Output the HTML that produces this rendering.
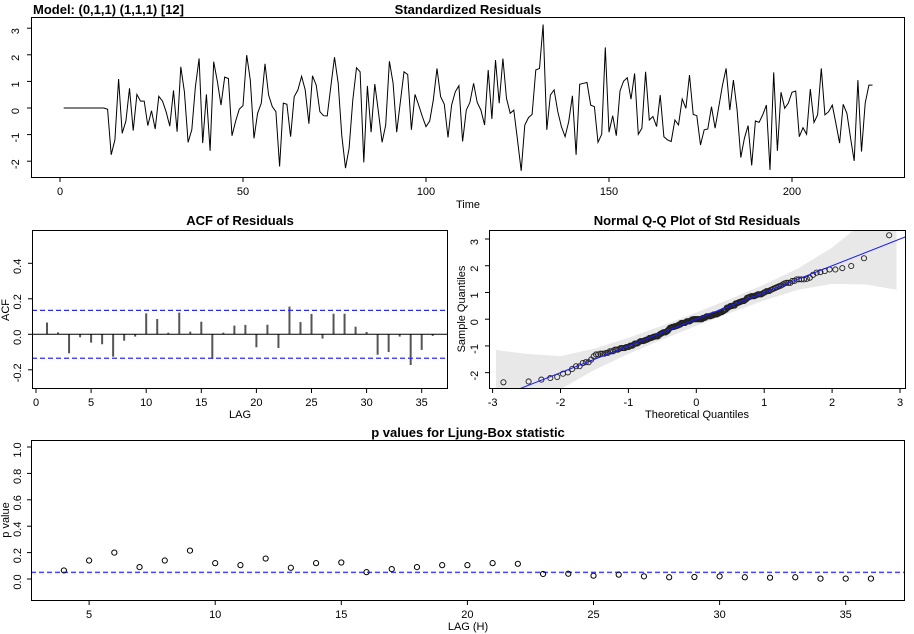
<!DOCTYPE html>
<html><head><meta charset="utf-8"><style>
body{margin:0;background:#fff}
svg{display:block;font-family:"Liberation Sans",sans-serif}
</style></head><body>
<svg id="c" width="914" height="634" xmlns="http://www.w3.org/2000/svg">
<text x="33" y="14" font-size="13" font-weight="bold">Model: (0,1,1) (1,1,1) [12]</text>
<text x="468" y="14" font-size="13" font-weight="bold" text-anchor="middle">Standardized Residuals</text>
<text x="240" y="225" font-size="13" font-weight="bold" text-anchor="middle">ACF of Residuals</text>
<text x="697" y="225" font-size="13" font-weight="bold" text-anchor="middle">Normal Q-Q Plot of Std Residuals</text>
<text x="468" y="437" font-size="13" font-weight="bold" text-anchor="middle">p values for Ljung-Box statistic</text>
</svg>
<script>
const residuals=[0,0,0,0,0,0,0,0,0,0,0,0,-0.05,-1.76,-1.2,1.09,-0.95,-0.49,0.74,-0.85,0.51,0.26,0.26,-0.66,-0.1,-0.79,0.44,0.26,-0.14,-0.68,0.66,-0.89,1.55,0.61,-1.29,-0.82,0.8,1.86,-1.32,0.51,-1.61,1.74,0.99,0.11,1.16,1.11,-1.04,-0.49,-0.04,0.09,1.99,1.05,-1.14,-0.2,0.18,1.66,0.49,0.05,-0.14,-2.2,0.18,0.14,-1.08,0.43,0.68,1.19,0.68,-0.59,1.21,0.86,-0.14,-0.29,-0.3,0.8,1.91,0.93,-1.04,-2.26,-1.51,0.3,1.51,1.36,-2.04,0.83,-0.91,0.9,-0.14,-1.29,-0.64,1.76,0.93,-0.91,0.24,1.36,1.26,-0.82,0.51,0.11,-0.32,-0.7,-0.49,0.3,1.49,0.43,0.14,-1.11,0.11,0.61,0.84,-1.26,-0.08,0.21,0.93,0.21,-0.08,-0.64,1.43,-0.41,1.8,0.18,1.86,0.36,-0.2,-0.08,-1.2,-2.36,-0.64,-0.36,-0.24,1.43,1.49,3.14,-0.82,0.49,0.68,-0.14,-0.7,-1.08,-0.51,0.46,-1.76,0.89,0.93,0.96,0.11,0.05,-1.29,-0.99,2.28,-0.91,-0.29,-1.04,0.64,1.01,1.14,0.33,1.3,-0.99,-0.76,1.36,-0.45,-0.32,-0.7,0.49,-1.08,-1.2,-1.26,-0.45,-0.64,0.34,-0.01,1.24,-0.24,-0.29,-1.39,-0.82,-0.79,0.05,-0.76,0.05,0.86,1.49,-0.08,1.05,-0.08,-1.86,-1.14,-0.66,-2.16,-0.49,-0.54,-0.26,0.11,-2.33,1.34,-1.61,0.59,-0.01,0.18,0.59,0.64,-1.08,-0.74,-0.99,0.71,-0.54,-0.26,1.49,-0.26,-0.14,0.11,-0.58,-1.32,0.14,-0.2,-1.14,-1.99,1.05,-1.64,0.18,0.86,0.86];
const timeTicks=[0,50,100,150,200];
const resTicks=[-2,-1,0,1,2,3];
const acfLags=[1,2,3,4,5,6,7,8,9,10,11,12,13,14,15,16,17,18,19,20,21,22,23,24,25,26,27,28,29,30,31,32,33,34,35,36];
const acfValues=[0.066,0.011,-0.107,-0.017,-0.047,-0.056,-0.126,-0.036,-0.013,0.118,0.086,0.009,0.122,0.015,0.071,-0.139,0.009,0.049,0.053,-0.073,0.054,-0.077,0.156,0.069,0.115,-0.024,0.116,0.116,0.043,0.013,-0.115,-0.1,-0.013,-0.173,-0.088,-0.009];
const acfBound=0.135;
const acfXTicks=[0,5,10,15,20,25,30,35];
const acfYTicks=[-0.2,0.0,0.2,0.4];
const acfYLabels=["-0.2","0.0","0.2","0.4"];
const qqXTicks=[-3,-2,-1,0,1,2,3];
const qqYTicks=[-2,-1,0,1,2,3];
const qqBandX=[-2.95,-2.5,-2,-1.5,-1,-0.5,0,0.5,1,1.5,2,2.5,2.95];
const qqBandHW=[1.8,1.2,0.62,0.4,0.3,0.26,0.25,0.26,0.3,0.4,0.68,1.2,1.85];
const qqLine=[0.0,1.0];
const lbLags=[4,5,6,7,8,9,10,11,12,13,14,15,16,17,18,19,20,21,22,23,24,25,26,27,28,29,30,31,32,33,34,35,36];
const lbPValues=[0.065,0.14,0.2,0.09,0.14,0.215,0.12,0.105,0.155,0.085,0.12,0.125,0.052,0.075,0.09,0.105,0.105,0.12,0.115,0.038,0.04,0.025,0.033,0.02,0.013,0.015,0.02,0.013,0.01,0.013,0.003,0.003,0.003];
const lbXTicks=[5,10,15,20,25,30,35];
const lbYTicks=[0,0.2,0.4,0.6,0.8,1.0];
const lbYLabels=["0.0","0.2","0.4","0.6","0.8","1.0"];

const svg=document.getElementById('c');
const NS='http://www.w3.org/2000/svg';
function mk(tag,attrs,parent){const e=document.createElementNS(NS,tag);for(const k in attrs)e.setAttribute(k,attrs[k]);(parent||svg).appendChild(e);return e;}
function txt(x,y,s,attrs){const e=mk('text',Object.assign({x:x,y:y,'font-size':11,'text-anchor':'middle',fill:'#000'},attrs||{}));e.textContent=s;return e;}
function vtxt(x,y,s){const e=txt(x,y,s,{transform:'rotate(-90 '+x+' '+y+')'});return e;}
function frame(x0,y0,x1,y1){return mk('rect',{x:x0,y:y0,width:x1-x0,height:y1-y0,fill:'none',stroke:'#000','stroke-width':1});}

// ===== Residuals panel =====
const rx=t=>60+3.66*t, ry=v=>108-26.6*v;
let g=mk('g',{});


let pts=residuals.map((v,i)=>rx(i+1).toFixed(1)+','+ry(v).toFixed(1)).join(' ');
let pl=mk('polyline',{points:pts,fill:'none',stroke:'#000','stroke-width':1},g);


let f=frame(31.5,17.5,904.5,177.5);


timeTicks.forEach(t=>{mk('line',{x1:rx(t),x2:rx(t),y1:177.5,y2:182,stroke:'#000'},g);let e=txt(rx(t),195,String(t));});
mk('line',{x1:rx(0),x2:rx(200),y1:177.5,y2:177.5,stroke:'#000'},g);
resTicks.forEach(v=>{mk('line',{x1:27,x2:31.5,y1:ry(v),y2:ry(v),stroke:'#000'},g);let e=vtxt(19,ry(v)+3,String(v));});
let tl=txt(468,208,'Time');

// ===== ACF panel =====
const ax=l=>36+11.02*l, ay=v=>334.3-177.5*v;
acfValues.forEach((v,i)=>{let b=mk('line',{x1:ax(acfLags[i]),x2:ax(acfLags[i]),y1:ay(0),y2:ay(v),stroke:'#555','stroke-width':2});});
mk('line',{x1:32,x2:447,y1:ay(0),y2:ay(0),stroke:'#000'});
[acfBound,-acfBound].forEach(b=>{let l=mk('line',{x1:32,x2:447,y1:ay(b),y2:ay(b),stroke:'#2a2aff','stroke-dasharray':'5,3','stroke-width':1.2});});
f=frame(32.5,230.5,447.5,388.5);


acfXTicks.forEach(t=>{mk('line',{x1:ax(t),x2:ax(t),y1:388.5,y2:393,stroke:'#000'});let e=txt(ax(t),406,String(t));});
mk('line',{x1:ax(0),x2:ax(35),y1:388.5,y2:388.5,stroke:'#000'});
acfYTicks.forEach((v,i)=>{mk('line',{x1:28,x2:32.5,y1:ay(v),y2:ay(v),stroke:'#000'});let e=vtxt(21,ay(v)+3,acfYLabels[i]);});
let al=txt(240,418,'LAG');
al=vtxt(9,310,'ACF');

// ===== Q-Q panel =====
const qx=x=>696.3+67.9*x, qy=v=>319.2-26.73*v;
function qnorm(p){const a=[-39.69683028665376,220.9460984245205,-275.9285104469687,138.357751867269,-30.66479806614716,2.506628277459239],b=[-54.47609879822406,161.5858368580409,-155.6989798598866,66.80131188771972,-13.28068155288572],c=[-0.007784894002430293,-0.3223964580411365,-2.400758277161838,-2.549732539343734,4.374664141464968,2.938163982698783],d=[0.007784695709041462,0.3224671290700398,2.445134137142996,3.754408661907416],pl=0.02425;let q,r;
if(p<pl){q=Math.sqrt(-2*Math.log(p));return(((((c[0]*q+c[1])*q+c[2])*q+c[3])*q+c[4])*q+c[5])/((((d[0]*q+d[1])*q+d[2])*q+d[3])*q+1);}
if(p>1-pl){q=Math.sqrt(-2*Math.log(1-p));return-(((((c[0]*q+c[1])*q+c[2])*q+c[3])*q+c[4])*q+c[5])/((((d[0]*q+d[1])*q+d[2])*q+d[3])*q+1);}
q=p-0.5;r=q*q;return(((((a[0]*r+a[1])*r+a[2])*r+a[3])*r+a[4])*r+a[5])*q/(((((b[0]*r+b[1])*r+b[2])*r+b[3])*r+b[4])*r+1);}
mk('clipPath',{id:'qqclip'}).appendChild(Object.assign(document.createElementNS(NS,'rect'),{}));
const cp=svg.lastChild.firstChild;cp.setAttribute('x',489.5);cp.setAttribute('y',230.5);cp.setAttribute('width',416);cp.setAttribute('height',158);
const lineY=x=>qqLine[0]+qqLine[1]*x;
let up=qqBandX.map((x,i)=>qx(x).toFixed(1)+','+qy(lineY(x)+qqBandHW[i]).toFixed(1));
let lo=qqBandX.map((x,i)=>qx(x).toFixed(1)+','+qy(lineY(x)-qqBandHW[i]).toFixed(1)).reverse();
let band=mk('polygon',{points:up.concat(lo).join(' '),fill:'#e8e8e8',stroke:'none','clip-path':'url(#qqclip)'});


const sorted=residuals.slice().sort((a,b)=>a-b), n=sorted.length;
sorted.forEach((v,i)=>{const th=qnorm((i+1-0.5)/n);let c=mk('circle',{cx:qx(th),cy:qy(v),r:2.6,fill:'none',stroke:'#222','stroke-width':0.9});});
let ql=mk('line',{x1:qx(-3.2),y1:qy(lineY(-3.2)),x2:qx(3.2),y2:qy(lineY(3.2)),stroke:'#1a1aff','stroke-width':1,'clip-path':'url(#qqclip)'});


f=frame(489.5,230.5,905.5,388.5);


qqXTicks.forEach(t=>{mk('line',{x1:qx(t),x2:qx(t),y1:388.5,y2:393,stroke:'#000'});let e=txt(qx(t),406,String(t));});
mk('line',{x1:qx(-3),x2:qx(3),y1:388.5,y2:388.5,stroke:'#000'});
qqYTicks.forEach(v=>{mk('line',{x1:485,x2:489.5,y1:qy(v),y2:qy(v),stroke:'#000'});let e=vtxt(478,qy(v)+3,String(v));});
al=txt(697,418,'Theoretical Quantiles');
al=vtxt(465,309,'Sample Quantiles');

// ===== Ljung-Box panel =====
const lx=l=>-37+25.22*l, ly=v=>579-132*v;
let bl=mk('line',{x1:31,x2:904,y1:ly(0.05),y2:ly(0.05),stroke:'#4444ff','stroke-dasharray':'5,3','stroke-width':1.5});


lbPValues.forEach((v,i)=>{let c=mk('circle',{cx:lx(lbLags[i]),cy:ly(v),r:2.6,fill:'none',stroke:'#000','stroke-width':1});});
f=frame(31.5,440.5,904.5,600.5);


lbXTicks.forEach(t=>{mk('line',{x1:lx(t),x2:lx(t),y1:600.5,y2:605,stroke:'#000'});let e=txt(lx(t),618,String(t));});
mk('line',{x1:lx(5),x2:lx(35),y1:600.5,y2:600.5,stroke:'#000'});
lbYTicks.forEach((v,i)=>{mk('line',{x1:27,x2:31.5,y1:ly(v),y2:ly(v),stroke:'#000'});let e=vtxt(21,ly(v)+3,lbYLabels[i]);});
al=txt(468,630,'LAG (H)');
al=vtxt(9,520,'p value');
</script>
</body></html>
